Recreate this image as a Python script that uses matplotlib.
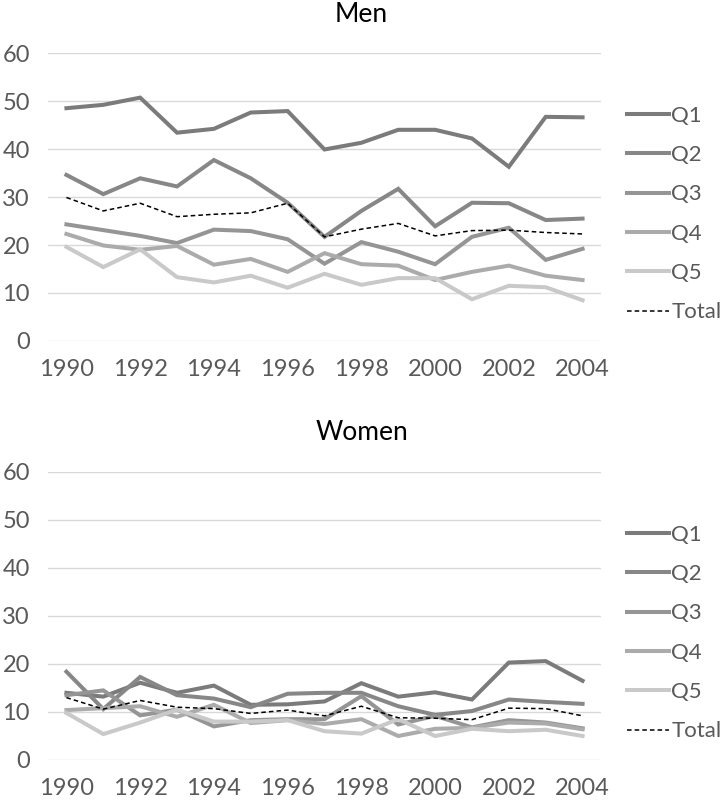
import matplotlib
matplotlib.use('Agg')
import matplotlib.pyplot as plt
import numpy as np

years = list(range(1990, 2005))
series_names = ['Q1', 'Q2', 'Q3', 'Q4', 'Q5', 'Total']

# Men, % by quintile
men_q1 = [48.5, 49.2, 50.7, 43.4, 44.2, 47.6, 47.9, 39.9, 41.3, 44.0, 44.0, 42.2, 36.3, 46.7, 46.6]
men_q2 = [34.6, 30.6, 33.9, 32.2, 37.7, 33.9, 28.8, 21.7, 27.1, 31.7, 23.9, 28.8, 28.7, 25.2, 25.5]
men_q3 = [24.3, 23.1, 21.9, 20.4, 23.2, 22.9, 21.2, 16.1, 20.6, 18.6, 16.0, 21.7, 23.6, 16.9, 19.2]
men_q4 = [22.3, 19.9, 19.0, 19.8, 15.9, 17.1, 14.4, 18.3, 16.0, 15.7, 12.7, 14.4, 15.7, 13.6, 12.7]
men_q5 = [19.6, 15.4, 19.1, 13.3, 12.2, 13.6, 11.1, 14.0, 11.7, 13.1, 13.1, 8.7, 11.5, 11.2, 8.5]
men_total = [29.9, 27.1, 28.7, 25.9, 26.4, 26.7, 28.7, 21.7, 23.3, 24.5, 21.9, 23.0, 23.1, 22.6, 22.3]

# Women, % by quintile
women_q1 = [14.0, 13.2, 16.1, 14.0, 15.5, 11.5, 11.6, 12.2, 16.0, 13.2, 14.1, 12.6, 20.3, 20.6, 16.5]
women_q2 = [18.4, 10.6, 17.3, 13.5, 12.8, 11.0, 13.8, 14.0, 14.0, 11.2, 9.4, 10.2, 12.6, 12.1, 11.7]
women_q3 = [13.5, 14.5, 9.3, 10.5, 7.0, 8.3, 8.5, 8.5, 13.3, 7.4, 9.2, 6.8, 8.3, 7.8, 6.6]
women_q4 = [10.4, 10.8, 11.2, 9.0, 11.5, 7.7, 8.3, 7.5, 8.5, 5.0, 6.5, 6.7, 7.8, 7.6, 6.4]
women_q5 = [9.8, 5.4, 7.8, 10.5, 8.0, 8.0, 8.3, 6.0, 5.5, 8.5, 5.0, 6.5, 6.0, 6.3, 5.0]
women_total = [13.0, 10.6, 12.4, 11.0, 10.7, 9.7, 10.4, 9.2, 11.2, 8.8, 8.7, 8.4, 10.8, 10.7, 9.2]

colors = ['#7b7b7b', '#878787', '#959595', '#ababab', '#c9c9c9']
plt.rcParams['font.family'] = ['Lato', 'DejaVu Sans']

W, H = 723, 801
fig = plt.figure(figsize=(W / 100, H / 100), dpi=100)


def draw_panel(top_px, data, title, title_y):
    ax = fig.add_axes([48 / W, 1 - (top_px + 288) / H, 553 / W, 288 / H])
    for i in range(5):
        ax.plot(years, data[i], color=colors[i], lw=2.9, label=series_names[i],
                solid_joinstyle='miter')
    ax.plot(years, data[5], color='black', lw=1.1, ls=(0, (3, 2)), label='Total')
    ax.set_xlim(1989.5, 2004.5)
    ax.set_ylim(0, 60)
    ax.set_yticks(range(0, 61, 10))
    ax.set_xticks(range(1990, 2005, 2))
    ax.grid(axis='y', color='#d9d9d9', lw=1)
    ax.set_axisbelow(True)
    for s in ax.spines.values():
        s.set_visible(False)
    ax.tick_params(length=0, labelsize=17, labelcolor='#595959')
    ax.tick_params(axis='x', pad=13)
    ax.tick_params(axis='y', pad=13)
    fig.text(0.5, 1 - title_y / H, title, ha='center', va='center', fontsize=19, color='black')
    ax.legend(loc='center left', bbox_to_anchor=(627 / W, 1 - (top_px + 161) / H),
              bbox_transform=fig.transFigure, frameon=False, fontsize=16,
              handlelength=1.9, handletextpad=0.1, labelspacing=0.87,
              borderpad=0, borderaxespad=0, labelcolor='#595959')
    return ax


draw_panel(53, [men_q1, men_q2, men_q3, men_q4, men_q5, men_total], 'Men', 14)
draw_panel(472, [women_q1, women_q2, women_q3, women_q4, women_q5, women_total], 'Women', 433)

plt.savefig('out.png', dpi=100)
plt.close()
